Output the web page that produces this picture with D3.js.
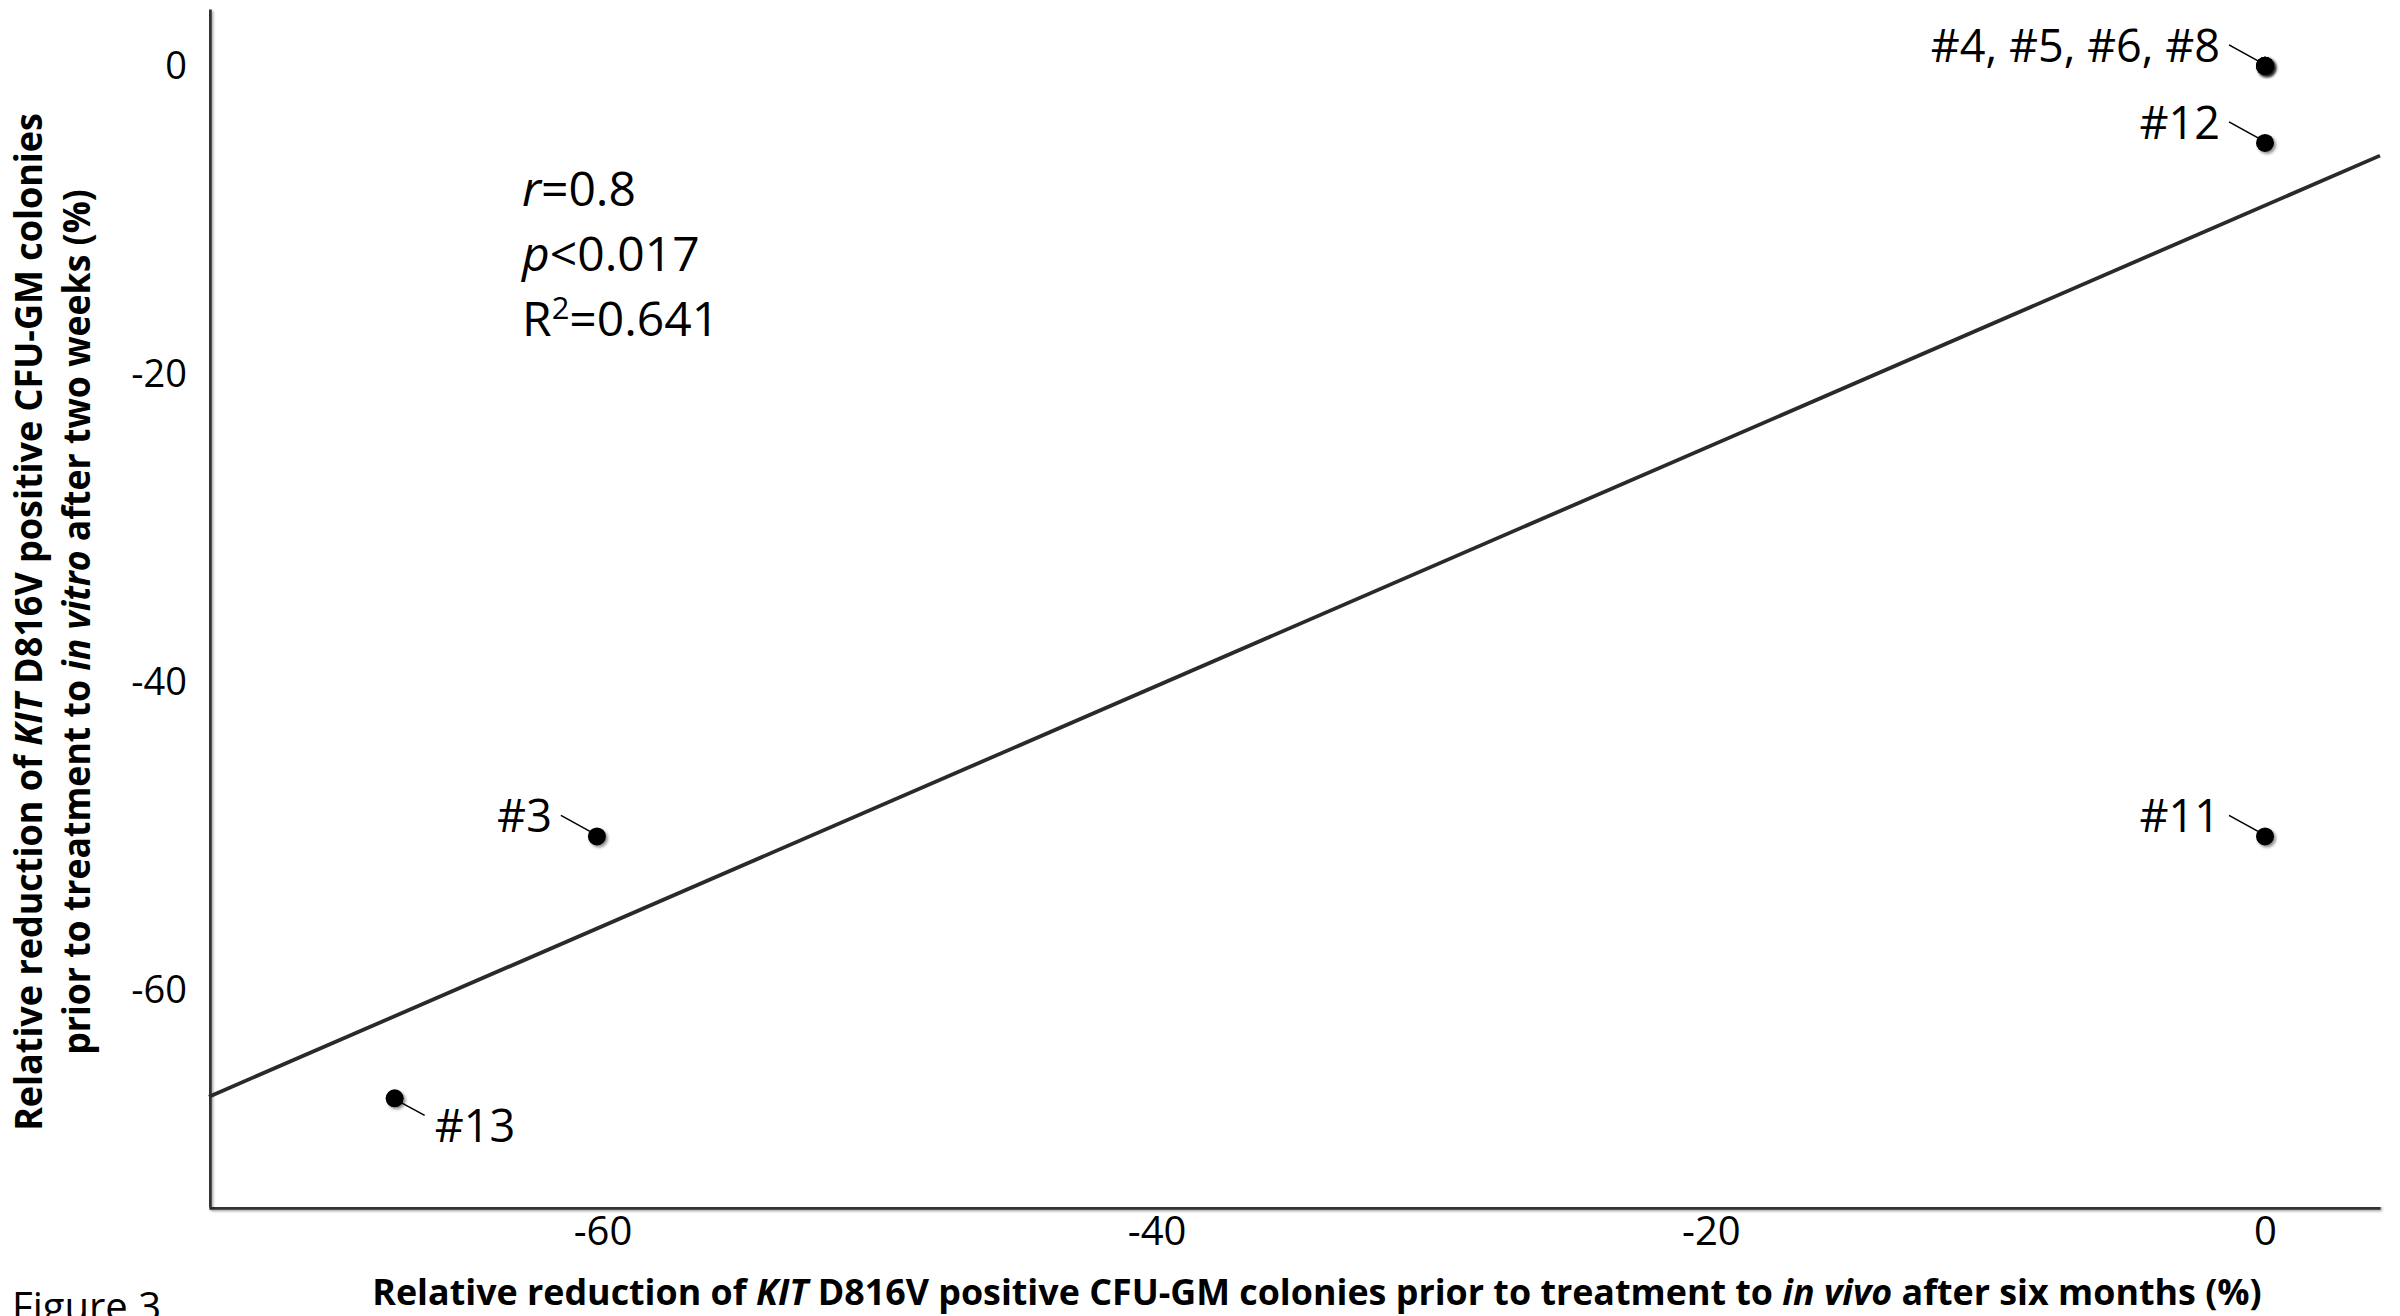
<!DOCTYPE html>
<html>
<head>
<meta charset="utf-8">
<script src="https://cdn.jsdelivr.net/npm/d3@7"></script>
<style>
  html, body { margin: 0; padding: 0; background: #fff; }
  svg { display: block; }
  text { font-family: "Open Sans", "Noto Sans", sans-serif; fill: #000; }
</style>
</head>
<body>
<svg id="chart" width="2400" height="1316"></svg>
<script>
// ---- data ----
const patients = ["#4", "#5", "#6", "#8", "#12", "#11", "#3", "#13"];
const inVivoReduction = [0, 0, 0, 0, 0, 0, -60.2, -67.5];     // x (%)
const inVitroReduction = [0, 0, 0, 0, -5, -50, -50, -67];     // y (%)
const xTicks = [-60, -40, -20, 0];
const yTicks = [0, -20, -40, -60];
const statsLines = [["r", "=0.8"], ["p", "<0.017"], ["R2", "=0.641"]];
const labelBelowRight = ["#13"];

// ---- setup ----
const W = 2400, H = 1316;
const svg = d3.select("#chart");
const x = d3.scaleLinear().domain([-74.2, 4.15]).range([209, 2380]);
const y = d3.scaleLinear().domain([-74.05, 3.69]).range([1207, 9]);

const defs = svg.append("defs");
const sh = defs.append("filter").attr("id", "shadow")
  .attr("x", "-50%").attr("y", "-50%").attr("width", "200%").attr("height", "200%");
sh.append("feDropShadow").attr("dx", 2).attr("dy", 2).attr("stdDeviation", 1.5)
  .attr("flood-color", "#000").attr("flood-opacity", 0.45);
const ash = defs.append("filter").attr("id", "axshadow").attr("filterUnits", "userSpaceOnUse")
  .attr("x", 0).attr("y", 0).attr("width", W).attr("height", H);
ash.append("feDropShadow").attr("dx", 1.5).attr("dy", 1.5).attr("stdDeviation", 1)
  .attr("flood-color", "#000").attr("flood-opacity", 0.35);

// ---- axes ----
const gx = svg.append("g").attr("transform", `translate(0,${y.range()[0]})`)
  .call(d3.axisBottom(x).tickValues(xTicks).tickSize(0).tickSizeOuter(0).tickPadding(10));
const gy = svg.append("g").attr("transform", `translate(${x.range()[0]},0)`)
  .call(d3.axisLeft(y).tickValues(yTicks).tickSize(0).tickSizeOuter(0).tickPadding(22));
[gx, gy].forEach(g => {
  g.select(".domain").attr("stroke", "#333").attr("stroke-width", 4.5)
    .attr("filter", "url(#axshadow)");
  g.selectAll(".tick text").attr("fill", "#000")
    .style("font-family", '"Open Sans", sans-serif')
    .text(d => String(d));
});
gx.selectAll("text").style("font-size", "40px");
gy.selectAll("text").style("font-size", "38px");

// ---- regression line (least squares from data) ----
const n = patients.length;
const mx = d3.mean(inVivoReduction), my = d3.mean(inVitroReduction);
let sxy = 0, sxx = 0;
for (let i = 0; i < n; i++) {
  sxy += (inVivoReduction[i] - mx) * (inVitroReduction[i] - my);
  sxx += (inVivoReduction[i] - mx) ** 2;
}
const slope = sxy / sxx, icpt = my - slope * mx;
const lineData = x.domain().map(v => [v, icpt + slope * v]);
svg.append("path").datum(lineData)
  .attr("d", d3.line().x(d => x(d[0])).y(d => y(d[1])))
  .attr("stroke", "#2a2a2a").attr("stroke-width", 3.8).attr("fill", "none");

// ---- points ----
const pts = patients.map((p, i) => ({ name: p, vx: inVivoReduction[i], vy: inVitroReduction[i] }));
svg.append("g").selectAll("circle").data(pts).join("circle")
  .attr("cx", d => x(d.vx)).attr("cy", d => y(d.vy)).attr("r", 9)
  .attr("fill", "#000").attr("filter", "url(#shadow)");

// ---- labels (points with identical coordinates share one label) ----
const groups = Array.from(d3.group(pts, d => d.vx + "|" + d.vy).values())
  .map(arr => ({ vx: arr[0].vx, vy: arr[0].vy, text: arr.map(d => d.name).join(", "),
                 below: labelBelowRight.includes(arr[0].name) }));
const lg = svg.append("g");
groups.forEach(g => {
  const px = x(g.vx), py = y(g.vy);
  if (g.below) {
    lg.append("line").attr("x1", px + 6).attr("y1", py + 4).attr("x2", px + 30).attr("y2", py + 17)
      .attr("stroke", "#000").attr("stroke-width", 1.6);
    lg.append("text").attr("x", px + 40).attr("y", py + 44).style("font-size", "45px").text(g.text);
  } else {
    lg.append("line").attr("x1", px - 36).attr("y1", py - 21).attr("x2", px - 7).attr("y2", py - 5)
      .attr("stroke", "#000").attr("stroke-width", 1.6);
    lg.append("text").attr("x", px - 45).attr("y", py - 4).attr("text-anchor", "end")
      .style("font-size", "45px").text(g.text);
  }
});

// ---- statistics text ----
const st = svg.append("g");
statsLines.forEach((s, i) => {
  const t = st.append("text").attr("x", 522).attr("y", 206 + i * 65).style("font-size", "48px");
  if (s[0] === "R2") {
    t.append("tspan").text("R");
    t.append("tspan").attr("dy", -17).style("font-size", "31px").text("2");
    t.append("tspan").attr("dy", 17).text(s[1]);
  } else {
    t.append("tspan").style("font-style", "italic").text(s[0]);
    t.append("tspan").text(s[1]);
  }
});

// ---- axis titles ----
function fitText(t, target) {
  const len = t.node().getComputedTextLength();
  return target / len;
}
const xt = svg.append("text").attr("text-anchor", "middle")
  .style("font-size", "36px").style("font-weight", "bold");
xt.append("tspan").text("Relative reduction of ");
xt.append("tspan").style("font-style", "italic").text("KIT");
xt.append("tspan").text(" D816V positive CFU-GM colonies prior to treatment to ");
xt.append("tspan").style("font-style", "italic").text("in vivo");
xt.append("tspan").text(" after six months (%)");
const sxT = fitText(xt, 1890);
xt.attr("transform", `translate(1317,1305) scale(${sxT},1)`);

const yLines = [
  [["Relative reduction of ", false], ["KIT", true], [" D816V positive CFU-GM colonies", false]],
  [["prior to treatment to ", false], ["in vitro", true], [" after two weeks (%)", false]]
];
const yTargets = [1018, 866];
const yBase = [42, 90];
yLines.forEach((parts, i) => {
  const t = svg.append("text").attr("text-anchor", "middle")
    .style("font-size", "38px").style("font-weight", "bold");
  parts.forEach(p => t.append("tspan").style("font-style", p[1] ? "italic" : "normal").text(p[0]));
  const s = fitText(t, yTargets[i]);
  t.attr("transform", `translate(${yBase[i]},622) rotate(-90) scale(${s},1)`);
});

// ---- figure label ----
svg.append("text").attr("x", 12).attr("y", 1321).style("font-size", "40px").text("Figure 3");
</script>
</body>
</html>
